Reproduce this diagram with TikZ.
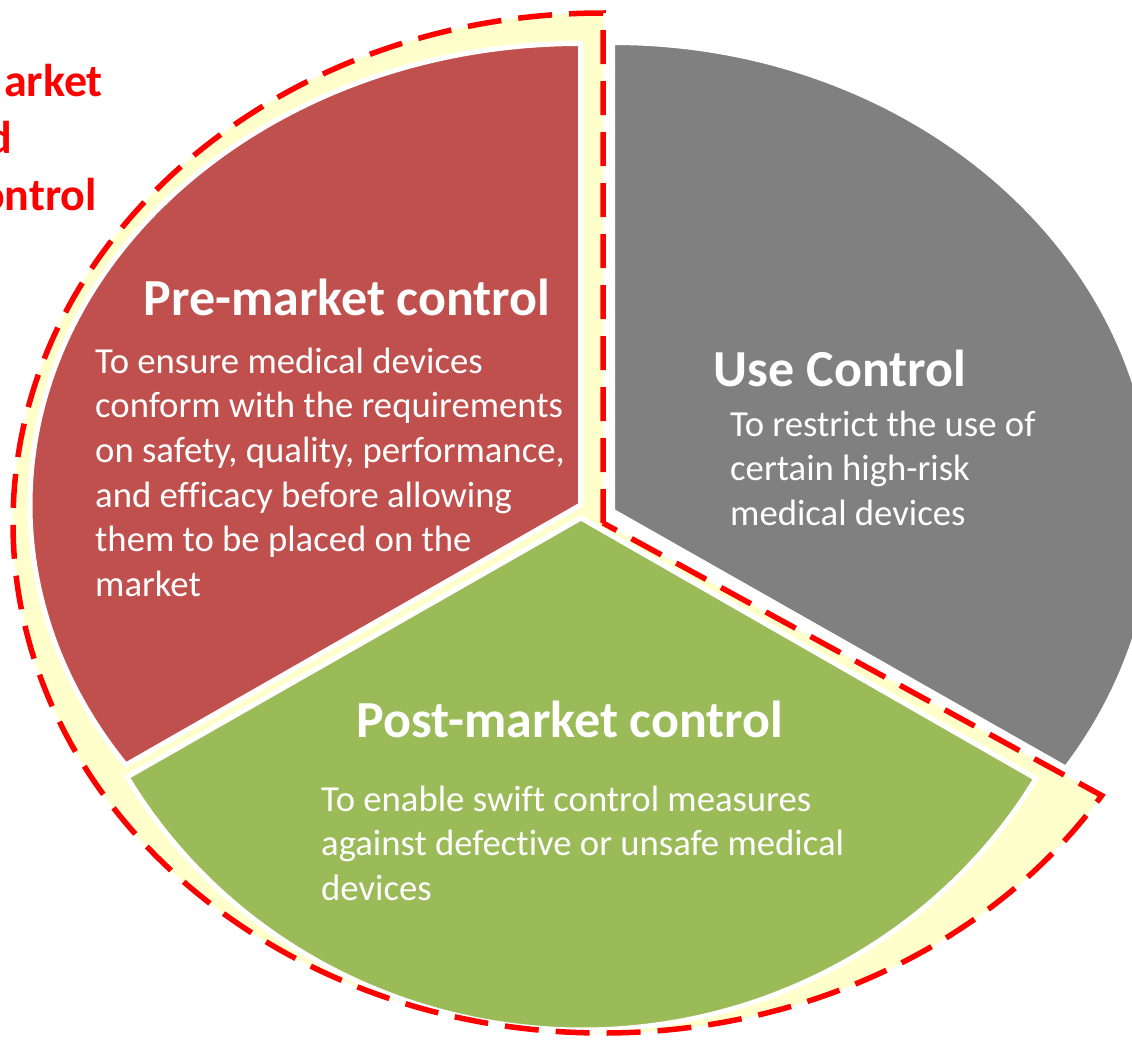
\documentclass[tikz,border=0pt]{standalone}
\usepackage{fontspec}
\setmainfont{Carlito}[Ligatures=NoCommon]
\definecolor{secred}{RGB}{192,80,77}
\definecolor{secgray}{RGB}{128,128,128}
\definecolor{secgreen}{RGB}{155,187,89}
\definecolor{bandyellow}{RGB}{255,255,204}
\definecolor{markred}{RGB}{255,0,0}
\begin{document}
\begin{tikzpicture}[x=1pt,y=-1pt,
  sector/.style={draw=white, line width=5pt, line join=miter},
  band/.style={fill=bandyellow},
  bandline/.style={draw=markred, line width=5.5pt, dash pattern={on 34pt off 17pt}},
  title/.style={text=white, font=\fontsize{52}{62}\selectfont\bfseries, inner sep=0pt},
  body/.style={text=white, font=\fontsize{36.7}{44.7}\selectfont, inner sep=0pt},
  redlabel/.style={text=markred, font=\fontsize{46}{57}\selectfont\bfseries, inner sep=0pt}]
\useasboundingbox (0,0) rectangle (1132,1039);
\clip (0,0) rectangle (1132,1039);

% highlighted band behind the pre- and post-market sectors
\path[band] (603,523) -- (603,13)
  arc[start angle=-90, end angle=-327.7, x radius=590, y radius=510] -- cycle;

% pie sectors
\draw[sector, fill=secred] (580.5,505) -- (580.5,43.5)
  arc[start angle=-90, end angle=-214.3, x radius=550.5, y radius=461.5] -- cycle;
\draw[sector, fill=secgreen] (581,518) -- (127,777)
  arc[start angle=149.6, end angle=30.6, x radius=527.5, y radius=512] -- cycle;
\draw[sector, fill=secgray] (612.5,511) -- (612.5,42.5)
  arc[start angle=-90, end angle=33.3, x radius=542.5, y radius=468.5] -- cycle;

% dashed outline of the band
\draw[bandline] (603,523) -- (603,13)
  arc[start angle=-90, end angle=-327.7, x radius=590, y radius=510] -- cycle;

% red caption at the left edge
\node[redlabel, anchor=base east] (mk1) at (103,96) {arket};
\node[redlabel, anchor=base east] (mk2) at (12,153) {d};
\node[redlabel, anchor=base east] (mk3) at (97,210) {ontrol};

% sector titles
\node[title, anchor=base] (pretitle) at (347,315) {Pre-market control};
\node[title, anchor=base] (usetitle) at (840,386) {Use Control};
\node[title, anchor=base] (posttitle) at (570,737) {Post-market control};

% sector descriptions
\node[body, anchor=base west] (prebody) at (95,373) {\begin{tabular}[t]{@{}l@{}}
To ensure medical devices\\
conform with the requirements\\
on safety, quality, performance,\\
and efficacy before allowing\\
them to be placed on the\\
market\end{tabular}};
\node[body, anchor=base west] (usebody) at (730,436) {\begin{tabular}[t]{@{}l@{}}
To restrict the use of\\
certain high-risk\\
medical devices\end{tabular}};
\node[body, anchor=base west] (postbody) at (321,811) {\begin{tabular}[t]{@{}l@{}}
To enable swift control measures\\
against defective or unsafe medical\\
devices\end{tabular}};
\end{tikzpicture}
\end{document}
